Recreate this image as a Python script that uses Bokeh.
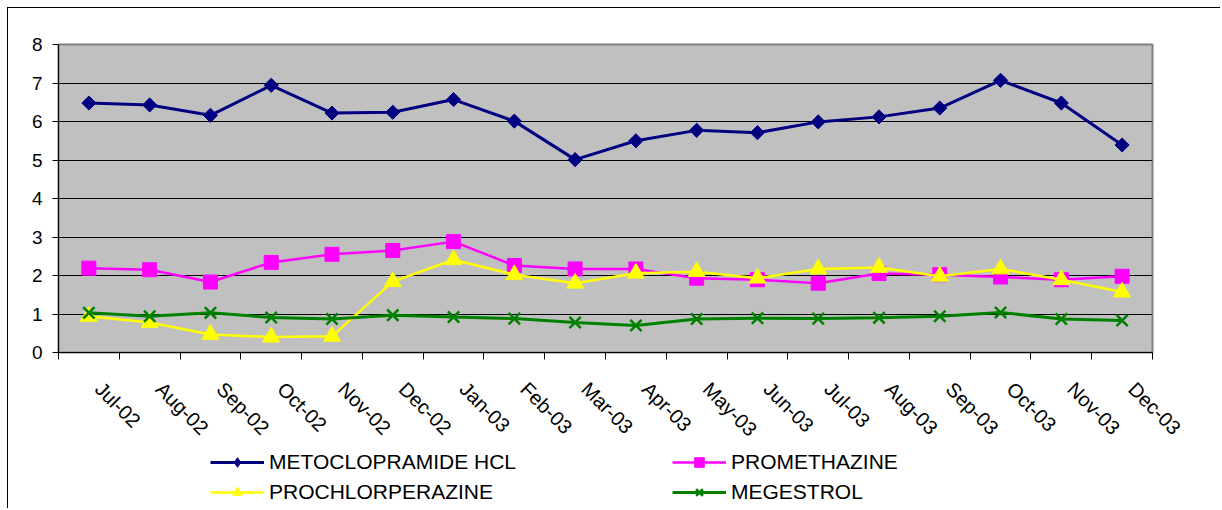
import math
from bokeh.plotting import figure
from bokeh.layouts import column
from bokeh.models import Range1d, FixedTicker, Legend, LegendItem
from bokeh.embed import file_html
from bokeh.resources import INLINE

months = ["Jul-02", "Aug-02", "Sep-02", "Oct-02", "Nov-02", "Dec-02",
          "Jan-03", "Feb-03", "Mar-03", "Apr-03", "May-03", "Jun-03",
          "Jul-03", "Aug-03", "Sep-03", "Oct-03", "Nov-03", "Dec-03"]

metoclopramide = [6.48, 6.43, 6.16, 6.94, 6.22, 6.24, 6.57, 6.01, 5.01, 5.50,
                  5.77, 5.71, 5.99, 6.12, 6.35, 7.07, 6.48, 5.39]
promethazine = [2.19, 2.15, 1.83, 2.34, 2.55, 2.65, 2.88, 2.26, 2.17, 2.17,
                1.93, 1.89, 1.80, 2.05, 2.02, 1.96, 1.89, 1.98]
prochlorperazine = [0.94, 0.78, 0.47, 0.40, 0.42, 1.84, 2.41, 2.02, 1.80, 2.06,
                    2.10, 1.93, 2.17, 2.21, 1.98, 2.17, 1.89, 1.57]
megestrol = [1.03, 0.94, 1.03, 0.91, 0.87, 0.97, 0.92, 0.88, 0.78, 0.70,
             0.87, 0.89, 0.88, 0.90, 0.94, 1.04, 0.87, 0.83]

series_names = ["METOCLOPRAMIDE HCL", "PROMETHAZINE", "PROCHLORPERAZINE", "MEGESTROL"]

y_ticks = [0, 1, 2, 3, 4, 5, 6, 7, 8]

x = [i + 0.5 for i in range(len(months))]
boundaries = list(range(len(months) + 1))
label_pos = [xi + 0.16 for xi in x]  # small rightward nudge of rotated labels

FONT = "Liberation Sans"
NAVY, MAGENTA, YELLOW, GREEN = "#000080", "#FF00FF", "#FFFF00", "#008000"

# ---------------- main chart ----------------
p = figure(width=1213, height=443, output_backend="svg", toolbar_location=None,
           x_range=Range1d(0, len(months)), y_range=Range1d(0, 8),
           min_border_left=50, min_border_top=36, min_border_right=69,
           min_border_bottom=98)
p.styles = {"border-left": "1px solid black", "border-top": "1px solid black"}
p.background_fill_color = "#C0C0C0"
p.border_fill_color = "white"
p.outline_line_color = "#808080"
p.outline_line_width = 2

p.xgrid.visible = False
p.ygrid.ticker = FixedTicker(ticks=y_ticks[1:-1])
p.ygrid.grid_line_color = "black"
p.ygrid.grid_line_alpha = 1
p.ygrid.grid_line_width = 1

p.yaxis.ticker = FixedTicker(ticks=y_ticks)
p.yaxis.major_tick_out = 6
p.yaxis.major_tick_in = 0
p.yaxis.minor_tick_out = 0
p.yaxis.minor_tick_in = 0
p.yaxis.major_label_standoff = 10
p.yaxis.axis_line_color = "black"
p.yaxis.major_tick_line_color = "black"
p.yaxis.major_label_text_font_size = "19px"

p.xaxis.ticker = FixedTicker(ticks=label_pos, minor_ticks=boundaries)
p.xaxis.major_label_overrides = {lp: m for lp, m in zip(label_pos, months)}
p.xaxis.major_tick_out = 0
p.xaxis.major_tick_in = 0
p.xaxis.minor_tick_out = 7
p.xaxis.minor_tick_in = 0
p.xaxis.minor_tick_line_color = "black"
p.xaxis.axis_line_color = "black"
p.xaxis.major_label_orientation = -math.pi / 4
p.xaxis.major_label_standoff = 26
p.xaxis.major_label_text_font_size = "20px"

for ax in (p.xaxis, p.yaxis):
    ax.major_label_text_font = FONT
    ax.major_label_text_color = "black"

p.line(x, metoclopramide, line_color=NAVY, line_width=3)
p.scatter(x, metoclopramide, marker="square", angle=math.pi / 4, size=10,
          fill_color=NAVY, line_color=NAVY)
p.line(x, promethazine, line_color=MAGENTA, line_width=2.5)
p.scatter(x, promethazine, marker="square", size=14,
          fill_color=MAGENTA, line_color=MAGENTA)
p.line(x, prochlorperazine, line_color=YELLOW, line_width=2.5)
p.scatter(x, prochlorperazine, marker="triangle", size=17,
          fill_color=YELLOW, line_color=YELLOW)
p.line(x, megestrol, line_color=GREEN, line_width=3)
p.scatter(x, megestrol, marker="x", size=16, line_color=GREEN, line_width=2.5)

# ---------------- legend strip ----------------
lf = figure(width=1213, height=58, output_backend="svg", toolbar_location=None,
            x_range=Range1d(100, 101), y_range=Range1d(100, 101),
            x_axis_location=None, y_axis_location=None,
            min_border_left=0, min_border_right=0, min_border_top=0, min_border_bottom=0)
lf.styles = {"border-left": "1px solid black"}
lf.grid.visible = False
lf.outline_line_color = None
lf.background_fill_color = "white"
lf.border_fill_color = "white"

l1 = lf.line(x, metoclopramide, line_color=NAVY, line_width=3)
m1 = lf.scatter(x, metoclopramide, marker="diamond", size=16, fill_color=NAVY, line_color=NAVY)
l2 = lf.line(x, promethazine, line_color=MAGENTA, line_width=2.5)
m2 = lf.scatter(x, promethazine, marker="square", size=14, fill_color=MAGENTA, line_color=MAGENTA)
l3 = lf.line(x, prochlorperazine, line_color=YELLOW, line_width=2.5)
m3 = lf.scatter(x, prochlorperazine, marker="triangle", size=17, fill_color=YELLOW, line_color=YELLOW)
l4 = lf.line(x, megestrol, line_color=GREEN, line_width=3)
m4 = lf.scatter(x, megestrol, marker="x", size=16, line_color=GREEN, line_width=2.5)

legend = Legend(items=[
    LegendItem(label=series_names[0], renderers=[l1, m1]),
    LegendItem(label=series_names[1], renderers=[l2, m2]),
    LegendItem(label=series_names[2], renderers=[l3, m3]),
    LegendItem(label=series_names[3], renderers=[l4, m4]),
], location=(152, 4), orientation="horizontal", ncols=2)
legend.label_text_font = FONT
legend.label_text_font_size = "21px"
legend.label_text_color = "black"
legend.glyph_width = 54
legend.glyph_height = 24
legend.label_standoff = 5
legend.label_width = 397
legend.label_height = 24
legend.spacing = 6
legend.padding = 0
legend.margin = 0
legend.border_line_color = None
legend.background_fill_alpha = 0
lf.add_layout(legend)

layout = column(p, lf, spacing=0)
layout.styles = {"margin-left": "7px", "margin-top": "7px"}
open("out.html", "w").write(file_html(layout, INLINE))
